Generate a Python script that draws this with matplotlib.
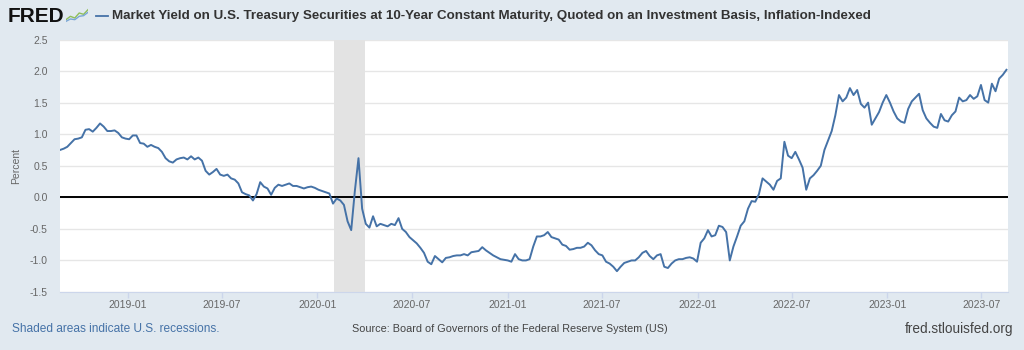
import pandas as pd
import matplotlib
matplotlib.use('Agg')
import matplotlib.pyplot as plt
import matplotlib.dates as mdates
from matplotlib.lines import Line2D

# weekly readings (Fridays) of the 10-year TIPS yield, in percent
y2018 = [0.75, 0.77,                      # Aug
         0.80, 0.86, 0.92, 0.93,          # Sep
         0.95, 1.07, 1.08, 1.04,          # Oct
         1.10, 1.17, 1.12, 1.05, 1.05,    # Nov
         1.06, 1.02, 0.95, 0.93]          # Dec
y2019 = [0.92, 0.98, 0.98, 0.86,
         0.85, 0.80, 0.83, 0.80,
         0.78, 0.72, 0.62, 0.57, 0.55,
         0.60, 0.62, 0.63, 0.60,
         0.65, 0.60, 0.63, 0.58, 0.42,
         0.36, 0.40, 0.45, 0.36,
         0.34, 0.36, 0.30, 0.28,
         0.22, 0.08, 0.05, 0.03, -0.05,
         0.05, 0.24, 0.17, 0.14,
         0.04, 0.15, 0.20, 0.18,
         0.20, 0.22, 0.18, 0.18, 0.16,
         0.14, 0.16, 0.17, 0.15]
y2020 = [0.12, 0.10, 0.08, 0.06, -0.10,
         -0.02, -0.05, -0.12, -0.38,
         -0.52, 0.10, 0.62, -0.18,
         -0.42, -0.48, -0.30, -0.46,
         -0.42, -0.44, -0.46, -0.42, -0.44,
         -0.33, -0.50, -0.55, -0.63,
         -0.68, -0.73, -0.80, -0.88, -1.02,
         -1.06, -0.93, -0.98, -1.03,
         -0.96, -0.95, -0.93, -0.92,
         -0.92, -0.90, -0.92, -0.87, -0.86,
         -0.85, -0.79, -0.84, -0.88,
         -0.92, -0.95, -0.98, -0.99]
y2021 = [-1.00, -1.02, -0.90, -0.98, -1.00,
         -1.00, -0.98, -0.78, -0.62,
         -0.62, -0.60, -0.55, -0.63,
         -0.65, -0.67, -0.75, -0.77, -0.83,
         -0.82, -0.80, -0.80, -0.78,
         -0.72, -0.76, -0.84, -0.90,
         -0.92, -1.02, -1.05, -1.10, -1.17,
         -1.10, -1.04, -1.02, -1.00,
         -1.00, -0.95, -0.88, -0.85,
         -0.93, -0.98, -0.92, -0.90, -1.10,
         -1.12, -1.05, -1.00, -0.98,
         -0.98, -0.96, -0.95, -0.97, -1.02]
y2022 = [-0.72, -0.65, -0.52, -0.62,
         -0.60, -0.45, -0.47, -0.55,
         -1.00, -0.78, -0.62, -0.45,
         -0.38, -0.18, -0.06, -0.07, 0.05,
         0.30, 0.25, 0.20, 0.12,
         0.26, 0.30, 0.88, 0.66,
         0.62, 0.72, 0.60, 0.47, 0.12,
         0.30, 0.35, 0.42, 0.50,
         0.75, 0.90, 1.05, 1.30, 1.62,
         1.52, 1.58, 1.73, 1.62,
         1.70, 1.48, 1.42, 1.50,
         1.15, 1.25, 1.35, 1.50, 1.62]
y2023 = [1.50, 1.36, 1.25, 1.20,
         1.18, 1.40, 1.52, 1.58,
         1.64, 1.38, 1.25, 1.18, 1.12,
         1.10, 1.32, 1.22, 1.20,
         1.30, 1.36, 1.58, 1.52,
         1.54, 1.62, 1.56, 1.60, 1.78,
         1.54, 1.50, 1.80, 1.68,
         1.88, 1.94, 2.02]

yields = y2018 + y2019 + y2020 + y2021 + y2022 + y2023
dates = pd.date_range('2018-08-24', periods=len(yields), freq='W-FRI')

recession = ('2020-02-01', '2020-04-01')
y_ticks = [-1.5, -1.0, -0.5, 0.0, 0.5, 1.0, 1.5, 2.0, 2.5]
x_ticks = ['2019-01', '2019-07', '2020-01', '2020-07', '2021-01',
           '2021-07', '2022-01', '2022-07', '2023-01', '2023-07']

bg = '#e1e9f0'
blue = '#4572a7'
plt.rcParams['font.family'] = ['Liberation Sans', 'DejaVu Sans']

fig = plt.figure(figsize=(10.24, 3.5), dpi=100, facecolor=bg)
ax = fig.add_axes([60 / 1024, 1 - 292 / 350, 948 / 1024, 252.5 / 350])
ax.set_facecolor('white')

ax.axvspan(pd.Timestamp(recession[0]), pd.Timestamp(recession[1]), color='#e3e3e3', lw=0, zorder=1)
for t in y_ticks:
    ax.axhline(t, color='#e6e6e6', lw=1, zorder=0)
ax.axhline(0, color='black', lw=1.4, zorder=2)
ax.plot(dates, yields, color=blue, lw=1.4, zorder=3)

ax.set_ylim(-1.5, 2.5)
ax.set_xlim(pd.Timestamp('2018-08-24'), pd.Timestamp('2023-08-21'))
ax.set_yticks(y_ticks)
ax.set_yticklabels(['%.1f' % t for t in y_ticks])
ax.set_xticks([pd.Timestamp(d) for d in x_ticks])
ax.xaxis.set_major_formatter(mdates.DateFormatter('%Y-%m'))

for s in ['top', 'right', 'left']:
    ax.spines[s].set_visible(False)
ax.spines['bottom'].set_color('#ccd6eb')
ax.tick_params(axis='y', length=0, pad=9, labelsize=7.5, labelcolor='#666666')
ax.tick_params(axis='x', length=4, width=1, color='#ccd6eb', pad=2, labelsize=7.5, labelcolor='#666666')
ax.set_ylabel('Percent', fontsize=7.5, color='#666666', labelpad=6)

# header
fig.text(8 / 1024, 1 - 22 / 350, 'FRED', fontsize=15, fontweight='bold', color='#111111', va='baseline')
icon = fig.add_axes([66 / 1024, 1 - 23 / 350, 22 / 1024, 15 / 350])
icon.set_facecolor('#dfe6ee')
icon.plot([0, 1, 2, 3, 4, 5], [1, 2, 1.5, 3, 2.6, 4], color='#8fbf5a', lw=1)
icon.plot([0, 1, 2, 3, 4, 5], [0.5, 1.2, 1.0, 2.0, 2.2, 3.2], color='#7aa6d6', lw=1)
icon.set_xlim(0, 5)
icon.set_ylim(0, 4.5)
icon.axis('off')
fig.add_artist(Line2D([96 / 1024, 108 / 1024], [1 - 16 / 350, 1 - 16 / 350], color=blue, lw=1.3))
fig.text(112 / 1024, 1 - 16 / 350,
         'Market Yield on U.S. Treasury Securities at 10-Year Constant Maturity, '
         'Quoted on an Investment Basis, Inflation-Indexed',
         fontsize=9.65, fontweight='bold', color='#333333', va='center')

# footer
fig.text(12 / 1024, 1 - 329 / 350, 'Shaded areas indicate U.S. recessions.',
         fontsize=8.6, color=blue, va='center')
fig.text(510 / 1024, 1 - 329 / 350, 'Source: Board of Governors of the Federal Reserve System (US)',
         fontsize=7.8, color='#444444', va='center', ha='center')
fig.text(1013 / 1024, 1 - 329 / 350, 'fred.stlouisfed.org',
         fontsize=9.8, color='#444444', va='center', ha='right')

fig.savefig('out.png', dpi=100, facecolor=bg)
